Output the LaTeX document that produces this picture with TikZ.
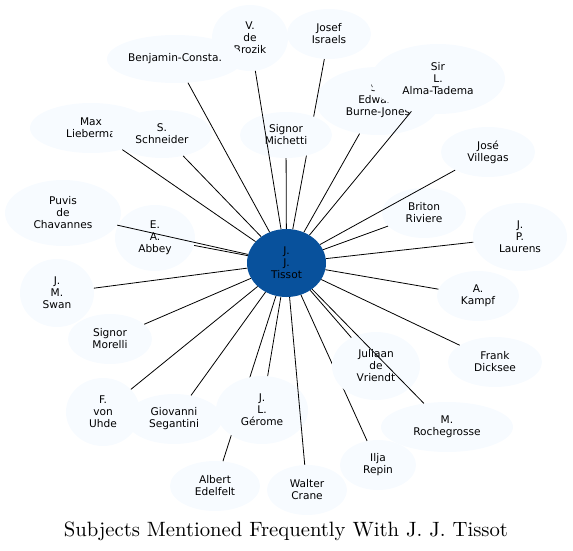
\documentclass[tikz,border=0pt]{standalone}
\usepackage{fontspec}
\newfontfamily\dvs{DejaVu Sans}
\usetikzlibrary{shapes.geometric}
\definecolor{lightfill}{HTML}{F7FBFF}
\definecolor{hubfill}{HTML}{08519C}
\tikzset{
  person/.style={ellipse, fill=lightfill, inner sep=0pt, align=center,
    font=\dvs\fontsize{10.6}{12}\selectfont},
  hub/.style={person, fill=hubfill},
  link/.style={draw=black, line width=0.8pt}
}
\newcommand{\nd}[5]{\node[person, minimum width=#3pt, minimum height=#4pt] (#1) at (#2) {#5};}
\begin{document}
\begin{tikzpicture}[x=1pt,y=-1pt]
\useasboundingbox (0,0) rectangle (573,551);
% hub
\node[hub, minimum width=79pt, minimum height=68pt] (tissot) at (286.5,263) {J.\\J.\\Tissot};
% lower layer nodes
\nd{max}{91,128}{122}{50}{Max\\Lieberma}
\nd{burne}{378,101}{124}{68}{Sir\\Edward\\Burne-Jones}
\nd{israels}{329,34}{84}{50}{Josef\\Israels}
\nd{brozik}{250,38}{76}{66}{V.\\de\\Brozik}
\nd{benjamin}{175,59}{136}{48}{Benjamin-Consta.}
\nd{repin}{378,465}{76}{50}{Ilja\\Repin}
\nd{edelfelt}{215,486}{90}{50}{Albert\\Edelfelt}
\nd{uhde}{103,412}{74}{68}{F.\\von\\Uhde}
\nd{segantini}{174,419}{96}{50}{Giovanni\\Segantini}
% hidden edges
\draw[link] (tissot) -- (max);
\draw[link] (tissot) -- (israels);
\draw[link] (tissot) -- (repin);
\draw[link] (tissot) -- (edelfelt);
% upper layer nodes
\nd{schneider}{162,134}{100}{48}{S.\\Schneider}
\nd{alma}{438,79}{134}{70}{Sir\\L.\\Alma-Tadema}
\nd{michetti}{286,135}{92}{46}{Signor\\Michetti}
\nd{villegas}{488,152}{94}{50}{José\\Villegas}
\nd{puvis}{63,213}{116}{66}{Puvis\\de\\Chavannes}
\nd{abbey}{155,238}{80}{66}{E.\\A.\\Abbey}
\nd{swan}{57,293}{74}{68}{J.\\M.\\Swan}
\nd{riviere}{424,213}{84}{50}{Briton\\Riviere}
\nd{laurens}{520,237}{94}{68}{J.\\P.\\Laurens}
\nd{kampf}{478,296}{82}{50}{A.\\Kampf}
\nd{dicksee}{495,362}{94}{50}{Frank\\Dicksee}
\nd{juliaan}{376,366}{88}{68}{Juliaan\\de\\Vriendt}
\nd{roche}{447,427}{132}{50}{M.\\Rochegrosse}
\nd{crane}{307,490}{80}{50}{Walter\\Crane}
\nd{gerome}{262,410}{92}{68}{J.\\L.\\Gérome}
\nd{morelli}{110,339}{84}{50}{Signor\\Morelli}
% visible edges
\foreach \t in {brozik,benjamin,michetti,burne,alma,villegas,schneider,puvis,abbey,swan,riviere,laurens,kampf,dicksee,juliaan,roche,crane,gerome,segantini,uhde,morelli}
  \draw[link] (tissot) -- (\t);
% title
\node[anchor=base, inner sep=0pt] (title) at (286,536) {\scalebox{2.07}{\fontsize{10}{12}\selectfont Subjects Mentioned Frequently With J. J. Tissot}};
\end{tikzpicture}
\end{document}
